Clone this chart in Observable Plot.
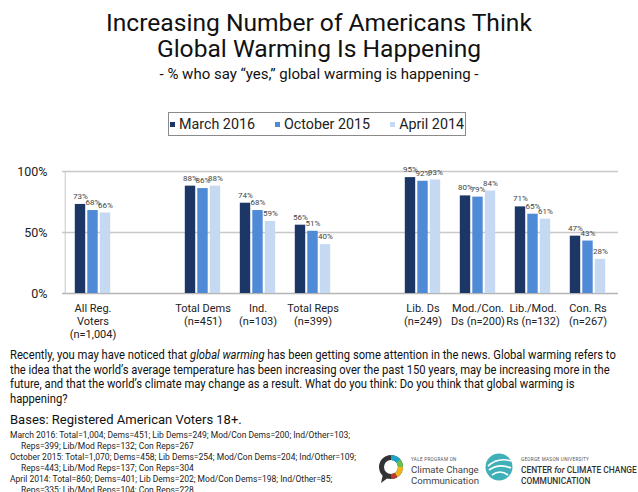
<!DOCTYPE html>
<html>
<head>
<meta charset="utf-8">
<script src="https://cdn.jsdelivr.net/npm/d3@7"></script>
<script src="https://cdn.jsdelivr.net/npm/@observablehq/plot@0.6"></script>
<style>
  html, body { margin: 0; padding: 0; background: #fff; }
  body { width: 638px; height: 492px; position: relative; overflow: hidden; font-family: Roboto, "Noto Sans", sans-serif; color: #111; }
  .abs { position: absolute; }
  #title { left: 0; width: 638px; top: 10px; text-align: center; font-size: 24.6px; line-height: 26px; color: #111; }
  #subtitle { left: 0; width: 638px; top: 65px; text-align: center; font-size: 15px; line-height: 18px; color: #111; }
  #legend { left: 168px; top: 112px; width: 296px; height: 22px; border: 1px solid #8a8a8a; display: flex; align-items: center; justify-content: center; gap: 20px; font-size: 14.3px; color: #222; white-space: nowrap; }
  #legend .item { display: flex; align-items: center; gap: 4px; white-space: nowrap; }
  #legend .sw { width: 5px; height: 5px; display: inline-block; }
  #chart { left: 0; top: 150px; }
  #question { left: 10px; top: 348px; font-size: 12.2px; line-height: 14.6px; color: #111; white-space: nowrap; transform: scaleX(0.92); transform-origin: 0 0; }
  #bases { left: 10px; top: 412px; font-size: 13px; line-height: 15px; color: #111; }
  #detail { left: 10px; top: 430px; font-size: 8.5px; line-height: 10.9px; color: #222; white-space: nowrap; }
  #detail .ind { padding-left: 11px; }
  #logos { left: 370px; top: 445px; width: 268px; height: 45px; }
</style>
</head>
<body>
<div id="title" class="abs">Increasing Number of Americans Think<br>Global Warming Is Happening</div>
<div id="subtitle" class="abs">- % who say “yes,” global warming is happening -</div>
<div id="legend" class="abs"></div>
<div id="chart" class="abs"></div>
<div id="question" class="abs">Recently, you may have noticed that <i>global warming</i> has been getting some attention in the news. Global warming refers to<br>the idea that the world’s average temperature has been increasing over the past 150 years, may be increasing more in the<br>future, and that the world’s climate may change as a result. What do you think: Do you think that global warming is<br>happening?</div>
<div id="bases" class="abs">Bases: Registered American Voters 18+.</div>
<div id="detail" class="abs">
  <div>March 2016: Total=1,004; Dems=451; Lib Dems=249; Mod/Con Dems=200; Ind/Other=103;</div>
  <div class="ind">Reps=399; Lib/Mod Reps=132; Con Reps=267</div>
  <div>October 2015: Total=1,070; Dems=458; Lib Dems=254; Mod/Con Dems=204; Ind/Other=109;</div>
  <div class="ind">Reps=443; Lib/Mod Reps=137; Con Reps=304</div>
  <div>April 2014: Total=860; Dems=401; Lib Dems=202; Mod/Con Dems=198; Ind/Other=85;</div>
  <div class="ind">Reps=335; Lib/Mod Reps=104; Con Reps=228</div>
</div>
<svg id="logos" class="abs" width="268" height="45" viewBox="0 0 268 45">
  <circle cx="21" cy="22" r="9.5" fill="none" stroke="#333" stroke-width="5"/>
  <path d="M21 12.5 A9.5 9.5 0 0 1 30.5 22" fill="none" stroke="#1aa5c8" stroke-width="5"/>
  <path d="M28.6 16 A9.5 9.5 0 0 1 30.5 22" fill="none" stroke="#6cbf4a" stroke-width="5"/>
  <path d="M30.5 22 A9.5 9.5 0 0 1 26 30" fill="none" stroke="#f2b31a" stroke-width="5"/>
  <path d="M26 30 A9.5 9.5 0 0 1 21 31.5" fill="none" stroke="#c0392b" stroke-width="5"/>
  <path d="M13 29 L11 38 L19 32 Z" fill="#333"/>
  <text x="41" y="16" font-size="4.6" fill="#555" font-family="Roboto" letter-spacing="0.3">YALE PROGRAM ON</text>
  <text x="41" y="28" font-size="9.6" fill="#444" font-family="Roboto">Climate Change</text>
  <text x="41" y="38.5" font-size="9.6" fill="#444" font-family="Roboto">Communication</text>
  <circle cx="129" cy="22" r="13.5" fill="#3fb0b8"/>
  <path d="M118 21 Q128 12 141 16 M119 25 Q129 18 141 23 M122 30 Q130 24 138 30" stroke="#fff" stroke-width="1.7" fill="none"/>
  <text x="151" y="16" font-size="4.6" fill="#555" font-family="Roboto" letter-spacing="0.3">GEORGE MASON UNIVERSITY</text>
  <text x="151" y="28" font-size="8.4" fill="#333" font-family="Roboto" font-weight="500">CENTER <tspan font-style="italic">for</tspan> CLIMATE CHANGE</text>
  <text x="151" y="38.5" font-size="8.4" fill="#333" font-family="Roboto" font-weight="500">COMMUNICATION</text>
</svg>
<script>
// ---- data ----
const categories = [
  "All Reg.\nVoters\n(n=1,004)",
  "Total Dems\n(n=451)",
  "Ind.\n(n=103)",
  "Total Reps\n(n=399)",
  "Lib. Ds\n(n=249)",
  "Mod./Con.\nDs (n=200)",
  "Lib./Mod.\nRs (n=132)",
  "Con. Rs\n(n=267)"
];
const seriesNames = ["March 2016", "October 2015", "April 2014"];
const march2016 = [73, 88, 74, 56, 95, 80, 71, 47];
const october2015 = [68, 86, 68, 51, 92, 79, 65, 43];
const april2014 = [66, 88, 59, 40, 93, 84, 61, 28];
const colors = ["#1c3765", "#4f8ad6", "#c5d9f2"];
const yTicks = [0, 50, 100];

// slot order with two blank spacer slots
const slots = [categories[0], "", categories[1], categories[2], categories[3], " ", categories[4], categories[5], categories[6], categories[7]];

const seriesValues = [march2016, october2015, april2014];
const rows = categories.flatMap((c, i) => seriesNames.map((s, j) => ({cat: c, series: s, si: j, value: seriesValues[j][i]})));

// legend
const legend = document.getElementById("legend");
seriesNames.forEach((s, j) => {
  const it = document.createElement("span");
  it.className = "item";
  it.innerHTML = `<span class="sw" style="background:${colors[j]}"></span><span>${s}</span>`;
  legend.appendChild(it);
});

// layout
const W = 638, mL = 62, mR = 20, mT = 21, mB = 52, H = 195;
const band = (W - mL - mR) / slots.length;
const barW = 11, gap = 1.5;
const groupW = 3 * barW + 2 * gap;
const off0 = (band - groupW) / 2;

const marks = [
  Plot.ruleY([50, 100], {stroke: "#c8c8c8", strokeWidth: 1.3}),
  Plot.ruleY([0], {stroke: "#b5b5b5", strokeWidth: 1.3}),
  Plot.ruleX([slots[0]], {y1: 0, y2: 100, stroke: "#c8c8c8", strokeWidth: 1, dx: -band / 2}),
];
seriesNames.forEach((s, j) => {
  const left = off0 + j * (barW + gap);
  const data = rows.filter(d => d.si === j);
  marks.push(Plot.barY(data, {
    x: "cat", y: "value", fill: colors[j],
    insetLeft: left, insetRight: band - left - barW
  }));
  marks.push(Plot.text(data, {
    x: "cat", y: "value", text: d => d.value + "%",
    dx: left + barW / 2 - band / 2, dy: -8,
    fontSize: 8, fill: "#444"
  }));
});
marks.push(Plot.axisY({ticks: yTicks, tickFormat: d => d + "%", tickSize: 0, tickPadding: 15, fontSize: 12.5, label: null, fill: "#222"}));
marks.push(Plot.axisX({tickSize: 0, tickPadding: 9, fontSize: 11, lineHeight: 1.2, label: null, fill: "#222"}));

const chart = Plot.plot({
  width: W, height: H,
  marginLeft: mL, marginRight: mR, marginTop: mT, marginBottom: mB,
  style: {fontFamily: "Roboto, sans-serif", background: "transparent"},
  x: {domain: slots, paddingInner: 0, paddingOuter: 0, axis: null},
  y: {domain: [0, 100], axis: null},
  marks
});
document.getElementById("chart").appendChild(chart);
</script>
</body>
</html>
